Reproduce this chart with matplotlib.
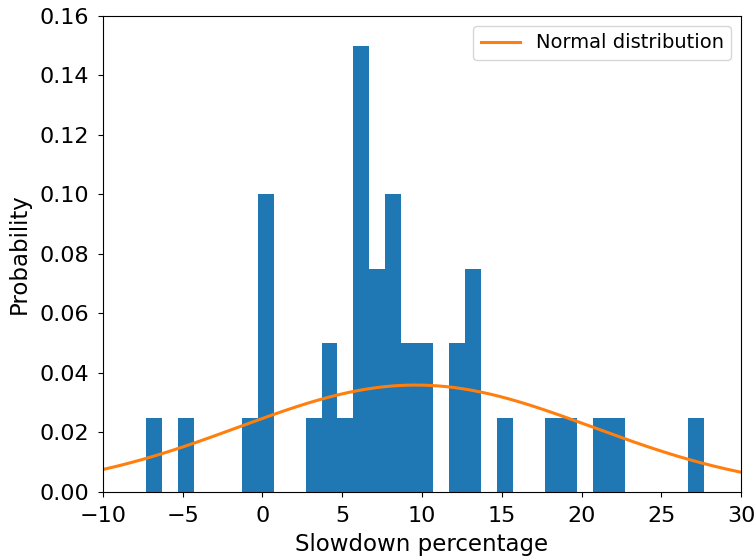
import numpy as np
import matplotlib
matplotlib.use('Agg')
import matplotlib.pyplot as plt

# histogram: 35 bins of width 1.0 starting at -7.3
bin_start = -7.3
bin_width = 1.0
probabilities = [0.025, 0, 0.025, 0, 0, 0, 0.025, 0.1, 0, 0,
                 0.025, 0.05, 0.025, 0.15, 0.075, 0.1, 0.05, 0.05, 0, 0.05,
                 0.075, 0, 0.025, 0, 0, 0.025, 0.025, 0, 0.025, 0.025,
                 0, 0, 0, 0, 0.025]

# fitted normal distribution
mu = 9.6
sigma = 11.1

x_ticks = [-10, -5, 0, 5, 10, 15, 20, 25, 30]
y_ticks = [0.00, 0.02, 0.04, 0.06, 0.08, 0.10, 0.12, 0.14, 0.16]

plt.rcParams['font.size'] = 16

fig = plt.figure(figsize=(7.56, 5.59), dpi=100)
ax = fig.add_axes([0.1362, 0.1199, 0.844, 0.8515])

edges = bin_start + bin_width * np.arange(len(probabilities) + 1)
ax.hist(edges[:-1], bins=edges, weights=probabilities, color='#1f77b4')

xs = np.linspace(-10, 30, 400)
pdf = np.exp(-(xs - mu) ** 2 / (2 * sigma ** 2)) / (sigma * np.sqrt(2 * np.pi))
ax.plot(xs, pdf, color='#ff7f0e', linewidth=2.2, label='Normal distribution')

ax.set_xlim(-10, 30)
ax.set_ylim(0, 0.16)
ax.set_xticks(x_ticks)
ax.set_yticks(y_ticks)
ax.tick_params(pad=6.5)
ax.set_xlabel('Slowdown percentage', fontsize=16.5, labelpad=5)
ax.set_ylabel('Probability', fontsize=16.5, labelpad=6)
ax.legend(loc='upper right', fontsize=14)

fig.savefig('out.png', dpi=100)
